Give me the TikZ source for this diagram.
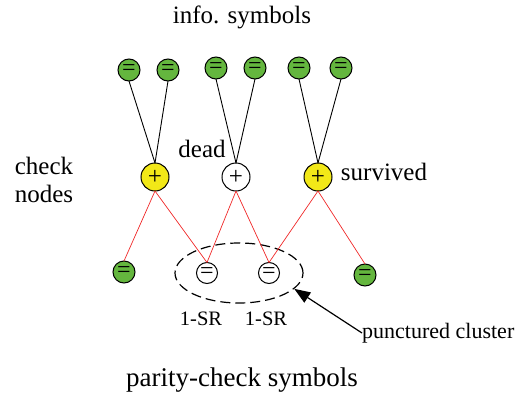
\documentclass[tikz,border=0pt]{standalone}
\usepackage{fontspec}
\setmainfont{Liberation Serif}
\usetikzlibrary{arrows.meta,shapes.geometric}
\definecolor{symgreen}{RGB}{100,182,62}
\definecolor{chkyellow}{RGB}{242,232,24}
\definecolor{edgered}{RGB}{240,40,40}
\begin{document}
\begin{tikzpicture}[x=1pt,y=-1pt,
  lbl/.style={font=\fontsize{25}{28}\selectfont, inner sep=0pt},
  infosym/.style={circle, draw, line width=1pt, fill=symgreen, minimum size=22pt, inner sep=0pt, outer sep=0pt, font=\fontsize{24}{24}\selectfont},
  paritysym/.style={circle, draw, line width=1pt, fill=white, minimum size=21pt, inner sep=0pt, outer sep=0pt, font=\fontsize{24}{24}\selectfont},
  chk/.style={circle, draw, line width=1pt, minimum size=28pt, inner sep=0pt, outer sep=0pt, font=\fontsize{25}{25}\selectfont},
  blk/.style={line width=0.9pt, black},
  rd/.style={line width=0.7pt, edgered}]
\useasboundingbox (0,0) rectangle (517,394);
% info symbols
\node[infosym] (i1) at (129,70) {=};
\node[infosym] (i2) at (168,70) {=};
\node[infosym] (i3) at (216,68) {=};
\node[infosym] (i4) at (255,68) {=};
\node[infosym] (i5) at (299,68) {=};
\node[infosym] (i6) at (341,68) {=};
% check nodes
\node[chk, fill=chkyellow] (c1) at (155,177) {+};
\node[chk, fill=white] (c2) at (236,177) {+};
\node[chk, fill=chkyellow] (c3) at (318,177) {+};
% parity symbols
\node[infosym] (p1) at (124,272) {=};
\node[paritysym] (p2) at (207,273) {=};
\node[paritysym] (p3) at (269,273) {=};
\node[infosym] (p4) at (365,275) {=};
% cluster
\node[ellipse, draw, dash pattern=on 10pt off 5pt, line width=1.2pt, minimum width=128pt, minimum height=60pt, inner sep=0pt] (cl) at (239,273) {};
% connectors
\draw[blk] (i1.south) -- (c1.north);
\draw[blk] (i2.south) -- (c1.north);
\draw[blk] (i3.south) -- (c2.north);
\draw[blk] (i4.south) -- (c2.north);
\draw[blk] (i5.south) -- (c3.north);
\draw[blk] (i6.south) -- (c3.north);
\draw[rd] (c1.south) -- (p1.north);
\draw[rd] (c1.south) -- (p2.north);
\draw[rd] (c2.south) -- (p2.north);
\draw[rd] (c2.south) -- (p3.north);
\draw[rd] (c3.south) -- (p3.north);
\draw[rd] (c3.south) -- (p4.north);
% labels
\node[lbl] (tinfo) at (242,17) {info. symbols};
\node[lbl, align=center] (tcheck) at (44,180) {check\\nodes};
\node[lbl] (tdead) at (202,149) {dead};
\node[lbl] (tsurv) at (384,172) {survived};
\node[lbl, font=\fontsize{20.5}{24}\selectfont] (sr1) at (201,319) {1-SR};
\node[lbl, font=\fontsize{20.5}{24}\selectfont] (sr2) at (266,319) {1-SR};
\node[lbl, font=\fontsize{27}{30}\selectfont] (tpar) at (242,380) {parity-check symbols};
\node[font=\fontsize{22}{24}\selectfont, inner sep=0pt, anchor=west] (tpc) at (362,333) {punctured cluster};
\draw[line width=1.2pt, -{Triangle[length=16pt,width=12pt]}] (tpc.west) -- (cl.-16);
\end{tikzpicture}
\end{document}
